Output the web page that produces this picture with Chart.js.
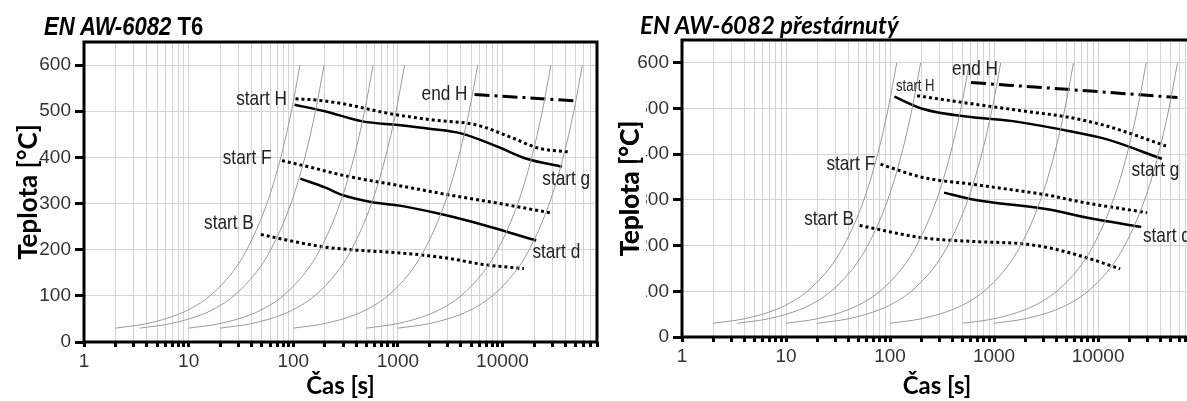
<!DOCTYPE html>
<html>
<head>
<meta charset="utf-8">
<script src="https://cdn.jsdelivr.net/npm/chart.js@4.4.1/dist/chart.umd.min.js"></script>
<style>
  html, body { margin: 0; padding: 0; background: #fff; overflow: hidden; }
  body { width: 1187px; height: 401px; position: relative; }
  .panel { position: absolute; top: 0; width: 600px; height: 401px; }
  #left { left: 0; }
  #right { left: 600px; }
  .title { position: absolute; font-weight: bold; font-style: italic; color: #000; white-space: nowrap; line-height: 1; }
  #title1 { left: 44px; top: 13px; font-family: 'Liberation Sans', Arial, sans-serif; font-size: 26px; transform: scaleX(0.85); transform-origin: left top; }
  #title1 span { font-style: normal; }
  #title2 { left: 640px; top: 13px; font-family: Lato, 'Open Sans', sans-serif; font-size: 24px; }
</style>
</head>
<body>
<div class="panel" id="left"><canvas id="chartT6"></canvas></div>
<div class="panel" id="right"><canvas id="chartOver"></canvas></div>
<div class="title" id="title1">EN AW-6082 <span>T6</span></div>
<div class="title" id="title2">EN AW-6082 přestárnutý</div>
<script>
const plain = "'Liberation Sans', Arial, sans-serif"
const heavy = "Lato, 'Open Sans', sans-serif"

// x axis: grid line at every 1..9 of a decade, label only on the decades
const timeTicks = [
  1, 2, 3, 4, 5, 6, 7, 8, 9,
  10, 20, 30, 40, 50, 60, 70, 80, 90,
  100, 200, 300, 400, 500, 600, 700, 800, 900,
  1000, 2000, 3000, 4000, 5000, 6000, 7000, 8000, 9000,
  10000, 20000, 30000, 40000, 50000, 60000, 70000, 80000
]
const decadeLabels = ['1', '10', '100', '1000', '10000']

// grey heating curves (same in both panels): time [s] at which each passes curveTemps
const curveTemps = [30, 40, 60, 80, 100, 150, 200, 300, 400, 500, 600]
const curveA = [2, 4, 8, 12, 16, 26, 36, 56, 76, 96, 116]
const curveB = [3.4, 6.8, 13.6, 20.4, 27, 44, 61, 95, 129, 163, 197]
const curveC = [10, 20, 40, 60, 80, 130, 180, 280, 380, 480, 580]
const curveD = [20, 40, 80, 120, 160, 260, 360, 560, 760, 960, 1160]
const curveE = [100, 200, 400, 600, 800, 1300, 1800, 2800, 3800, 4800, 5800]
const curveF = [500, 1000, 2000, 3000, 4000, 6500, 9000, 14000, 19000, 24000, 29000]
const curveG = [1000, 2000, 4000, 6000, 8000, 13000, 18000, 28000, 38000, 48000, 58000]

// EN AW-6082 T6
const t6EndHTime = [5400, 15000, 52000]
const t6EndHTemp = [536, 530, 522]
const t6StartHTime = [105, 170, 300, 830, 2000, 5700, 12500, 22000, 42000]
const t6StartHTemp = [527, 524, 516, 495, 482, 470, 442, 420, 412]
const t6StartGTime = [103, 200, 460, 1000, 2000, 4000, 9000, 17000, 37000]
const t6StartGTemp = [514, 500, 478, 470, 462, 452, 423, 397, 380]
const t6StartFTime = [78, 150, 300, 960, 3200, 11800, 28500]
const t6StartFTemp = [393, 378, 361, 340, 318, 296, 280]
const t6StartDTime = [117, 200, 300, 570, 1000, 2500, 5200, 21000]
const t6StartDTemp = [354, 335, 318, 303, 296, 278, 260, 220]
const t6StartBTime = [49, 100, 195, 400, 1200, 3100, 6500, 16000]
const t6StartBTemp = [233, 218, 206, 199, 192, 181, 168, 159]

// EN AW-6082 prestarnuty (over-aged)
const ovEndHTime = [600, 5000, 58000]
const ovEndHTemp = [557, 542, 524]
const ovStartHTime = [182, 630, 2000, 5200, 12000, 45000]
const ovStartHTemp = [528, 510, 494, 481, 462, 418]
const ovStartGTime = [110, 208, 625, 1450, 5200, 12000, 41000]
const ovStartGTemp = [526, 499, 481, 473, 451, 433, 390]
const ovStartFTime = [81, 208, 630, 1500, 3400, 6000, 29500]
const ovStartFTemp = [378, 349, 334, 322, 310, 298, 272]
const ovStartDTime = [330, 625, 3400, 7900, 26000]
const ovStartDTemp = [316, 301, 279, 261, 241]
const ovStartBTime = [51, 208, 630, 1870, 3400, 7900, 16300]
const ovStartBTemp = [244, 217, 209, 204, 195, 173, 149]

const t6Notes = [
  { text: 'start H', t: 87, T: 526, align: 'right' },
  { text: 'start F', t: 62, T: 398, align: 'right' },
  { text: 'start B', t: 42, T: 258, align: 'right' },
  { text: 'end H', t: 4630, T: 536, align: 'right' },
  { text: 'start g', t: 24000, T: 352, align: 'left' },
  { text: 'start d', t: 19300, T: 195, align: 'left' }
]
const ovNotes = [
  { text: 'start H', t: 114, T: 549, align: 'left', size: 16 },
  { text: 'end H', t: 395, T: 585, align: 'left' },
  { text: 'start F', t: 72, T: 379, align: 'right' },
  { text: 'start B', t: 45, T: 257, align: 'right' },
  { text: 'start g', t: 21000, T: 365, align: 'left' },
  { text: 'start d', t: 27000, T: 220, align: 'left' }
]

const pts = (times, temps) => times.map((t, i) => ({ x: t, y: temps[i] }))

function greyCurves() {
  return [curveA, curveB, curveC, curveD, curveE, curveF, curveG].map(times => ({
    data: pts(times, curveTemps),
    borderColor: '#9a9a9a',
    borderWidth: 1,
    pointRadius: 0,
    cubicInterpolationMode: 'monotone'
  }))
}

const dash = { dotted: [3, 3], solid: [], dashdot: [15, 5, 3, 5] }

function line(times, temps, style) {
  return {
    data: pts(times, temps),
    borderColor: '#000',
    borderWidth: style === 'solid' ? 2.5 : 3,
    borderDash: dash[style],
    pointRadius: 0,
    cubicInterpolationMode: 'monotone'
  }
}

// thick black box round the plot area
const framePlugin = {
  id: 'frame',
  afterDraw(chart) {
    const { ctx, chartArea: a } = chart
    ctx.save()
    ctx.lineWidth = 3
    ctx.strokeStyle = '#000'
    ctx.strokeRect(a.left, a.top, a.right - a.left, a.bottom - a.top)
    ctx.restore()
  }
}

// curve names written next to the lines, in a condensed face
const notesPlugin = {
  id: 'notes',
  afterDatasetsDraw(chart, args, opts) {
    const { ctx, scales: { x, y } } = chart
    opts.items.forEach(n => {
      ctx.save()
      ctx.fillStyle = '#222'
      ctx.textBaseline = 'middle'
      ctx.textAlign = n.align
      ctx.font = `${n.size || 21}px ${plain}`
      ctx.translate(x.getPixelForValue(n.t), y.getPixelForValue(n.T))
      ctx.scale(0.82, 1)
      ctx.fillText(n.text, 0, 0)
      ctx.restore()
    })
  }
}

// the source picture has the y title pasted over the first digit of some labels
const maskPlugin = {
  id: 'mask',
  afterDraw(chart, args, opts) {
    if (!opts.rect) return
    const { ctx } = chart
    const [x0, y0, x1, y1] = opts.rect
    ctx.save()
    ctx.fillStyle = '#fff'
    ctx.fillRect(x0, y0, x1 - x0, y1 - y0)
    ctx.restore()
    chart.scales.y.drawTitle()
  }
}

function makeChart(id, lines, notes, box) {
  return new Chart(document.getElementById(id), {
    type: 'line',
    data: { datasets: [...greyCurves(), ...lines] },
    options: {
      responsive: true,
      maintainAspectRatio: false,
      animation: false,
      layout: { padding: box.pad },
      plugins: {
        legend: { display: false },
        tooltip: { enabled: false },
        notes: { items: notes },
        mask: { rect: box.mask }
      },
      scales: {
        x: {
          type: 'logarithmic',
          min: 1,
          max: 80000,
          afterBuildTicks: s => { s.ticks = timeTicks.map(v => ({ value: v })) },
          afterFit: s => { s.height = box.xHeight },
          ticks: {
            autoSkip: false,
            maxRotation: 0,
            color: '#333',
            padding: 3,
            font: { family: plain, size: 19 },
            callback: v => decadeLabels.includes(String(v)) ? String(v) : ''
          },
          grid: { color: '#d4d4d4', lineWidth: 1, tickColor: '#000', tickWidth: 3, tickLength: 5 },
          border: { display: false },
          title: {
            display: true,
            text: 'Čas [s]',
            color: '#000',
            padding: 0,
            font: { family: heavy, size: 24, weight: 'bold' }
          }
        },
        y: {
          min: 0,
          max: 650,
          afterFit: s => { s.width = box.yWidth },
          ticks: {
            stepSize: 100,
            includeBounds: false,
            color: '#333',
            padding: 4,
            font: { family: plain, size: 19 }
          },
          grid: { color: '#d4d4d4', lineWidth: 1, tickColor: '#000', tickWidth: 3, tickLength: 9 },
          border: { display: false },
          title: {
            display: true,
            text: 'Teplota [°C]',
            color: '#000',
            padding: { top: box.yTitlePad, bottom: 0 },
            font: { family: heavy, size: 26, weight: 'bold' }
          }
        }
      }
    },
    plugins: [framePlugin, notesPlugin, maskPlugin]
  })
}

makeChart('chartT6', [
  line(t6EndHTime, t6EndHTemp, 'dashdot'),
  line(t6StartHTime, t6StartHTemp, 'dotted'),
  line(t6StartGTime, t6StartGTemp, 'solid'),
  line(t6StartFTime, t6StartFTemp, 'dotted'),
  line(t6StartDTime, t6StartDTemp, 'solid'),
  line(t6StartBTime, t6StartBTemp, 'dotted')
], t6Notes, { yWidth: 84, xHeight: 59, yTitlePad: 13, pad: { top: 42, right: 3, left: 0, bottom: 0 } })

makeChart('chartOver', [
  line(ovEndHTime, ovEndHTemp, 'dashdot'),
  line(ovStartHTime, ovStartHTemp, 'dotted'),
  line(ovStartGTime, ovStartGTemp, 'solid'),
  line(ovStartFTime, ovStartFTemp, 'dotted'),
  line(ovStartDTime, ovStartDTemp, 'solid'),
  line(ovStartBTime, ovStartBTemp, 'dotted')
], ovNotes, { yWidth: 82, xHeight: 64, yTitlePad: 15, mask: [37, 95, 46, 302], pad: { top: 40, right: 8, left: 0, bottom: 0 } })
</script>
</body>
</html>
